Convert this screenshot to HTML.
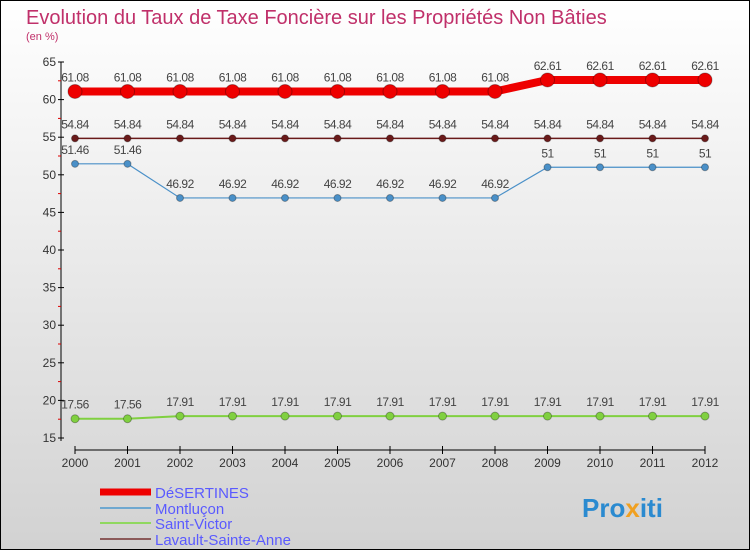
<!DOCTYPE html>
<html><head><meta charset="utf-8"><style>
body{margin:0;width:750px;height:550px;overflow:hidden;font-family:"Liberation Sans",sans-serif}
</style></head><body>
<svg width="750" height="550" xmlns="http://www.w3.org/2000/svg">
<defs><linearGradient id="bg" x1="0" y1="0" x2="0" y2="1"><stop offset="0" stop-color="#ffffff"/><stop offset="1" stop-color="#d2d2d2"/></linearGradient></defs>
<rect x="0.5" y="0.5" width="749" height="549" fill="url(#bg)" stroke="#000"/>
<text x="26" y="24" font-size="20" fill="#c0306a">Evolution du Taux de Taxe Foncière sur les Propriétés Non Bâties</text>
<text x="26" y="40" font-size="11" fill="#c0306a">(en %)</text>
<g id="axes"></g><g id="series"></g>
<g>
<line x1="100" y1="492" x2="151" y2="492" stroke="#e00" stroke-width="7"/>
<text x="155" y="498" font-size="15" fill="#5a5aff">DéSERTINES</text>
<line x1="100" y1="508" x2="151" y2="508" stroke="#6fa8d0" stroke-width="2"/>
<text x="155" y="514" font-size="15" fill="#5a5aff">Montluçon</text>
<line x1="100" y1="523" x2="151" y2="523" stroke="#90d860" stroke-width="2"/>
<text x="155" y="529" font-size="15" fill="#5a5aff">Saint-Victor</text>
<line x1="100" y1="539" x2="151" y2="539" stroke="#8b5a5a" stroke-width="2"/>
<text x="155" y="545" font-size="15" fill="#5a5aff">Lavault-Sainte-Anne</text>
</g>
<text x="582" y="517" font-size="26" font-weight="bold" fill="#2a8ad0">Pro<tspan fill="#f0a020">x</tspan>iti</text>
</svg>
<script>
const years=[2000,2001,2002,2003,2004,2005,2006,2007,2008,2009,2010,2011,2012];
const desertines=[61.08,61.08,61.08,61.08,61.08,61.08,61.08,61.08,61.08,62.61,62.61,62.61,62.61];
const lavault=[54.84,54.84,54.84,54.84,54.84,54.84,54.84,54.84,54.84,54.84,54.84,54.84,54.84];
const montlucon=[51.46,51.46,46.92,46.92,46.92,46.92,46.92,46.92,46.92,51,51,51,51];
const saintVictor=[17.56,17.56,17.91,17.91,17.91,17.91,17.91,17.91,17.91,17.91,17.91,17.91,17.91];
const yTicks=[15,20,25,30,35,40,45,50,55,60,65];
const NS="http://www.w3.org/2000/svg";
const X=i=>75+i*52.5, Y=v=>62+(65-v)*7.52;
function mk(t,a,p){const e=document.createElementNS(NS,t);for(const k in a)e.setAttribute(k,a[k]);p.appendChild(e);return e;}
const ax=document.getElementById('axes');
const ya=mk('line',{x1:61,y1:62,x2:61,y2:441,stroke:'#000'},ax);


const xa=mk('line',{x1:75,y1:450,x2:705,y2:450,stroke:'#000'},ax);


yTicks.forEach(v=>{mk('line',{x1:58,y1:Y(v),x2:64,y2:Y(v),stroke:'#000'},ax);
 if(v<65)mk('line',{x1:58,y1:Y(v+2.5),x2:61,y2:Y(v+2.5),stroke:'#d00'},ax);
 const t=mk('text',{x:56,y:Y(v)+4,'font-size':12,'text-anchor':'end',fill:'#333'},ax);t.textContent=v;
 
 });
years.forEach((y,i)=>{mk('line',{x1:X(i),y1:446,x2:X(i),y2:454,stroke:'#000'},ax);
 const t=mk('text',{x:X(i),y:467,'font-size':12,'text-anchor':'middle',fill:'#333'},ax);t.textContent=y;
 
 });
const sg=document.getElementById('series');
function series(name,vals,col,w,r,fmt){
 const g=mk('g',{},sg);
 
 
 mk('polyline',{points:vals.map((v,i)=>X(i)+','+Y(v)).join(' '),fill:'none',stroke:col,'stroke-width':w},g);
 vals.forEach((v,i)=>{const c=mk('circle',{cx:X(i),cy:Y(v),r:r,fill:col,stroke:'rgba(0,0,0,0.3)'},g);
  
  
  const t=mk('text',{x:X(i),y:Y(v)-10,'font-size':12,'text-anchor':'middle',fill:'#444','letter-spacing':'-0.5'},g);t.textContent=fmt(v);
  
  });
}
const f=v=>String(v);
series('saint-victor-series',saintVictor,'#80d040',2,4,f);
series('montlucon-series',montlucon,'#4a90c8',1.2,3.5,f);
series('lavault-series',lavault,'#6a1a1a',1.5,3.5,f);
series('desertines-series',desertines,'#ee0000',8,7,f);
</script>
</body></html>
